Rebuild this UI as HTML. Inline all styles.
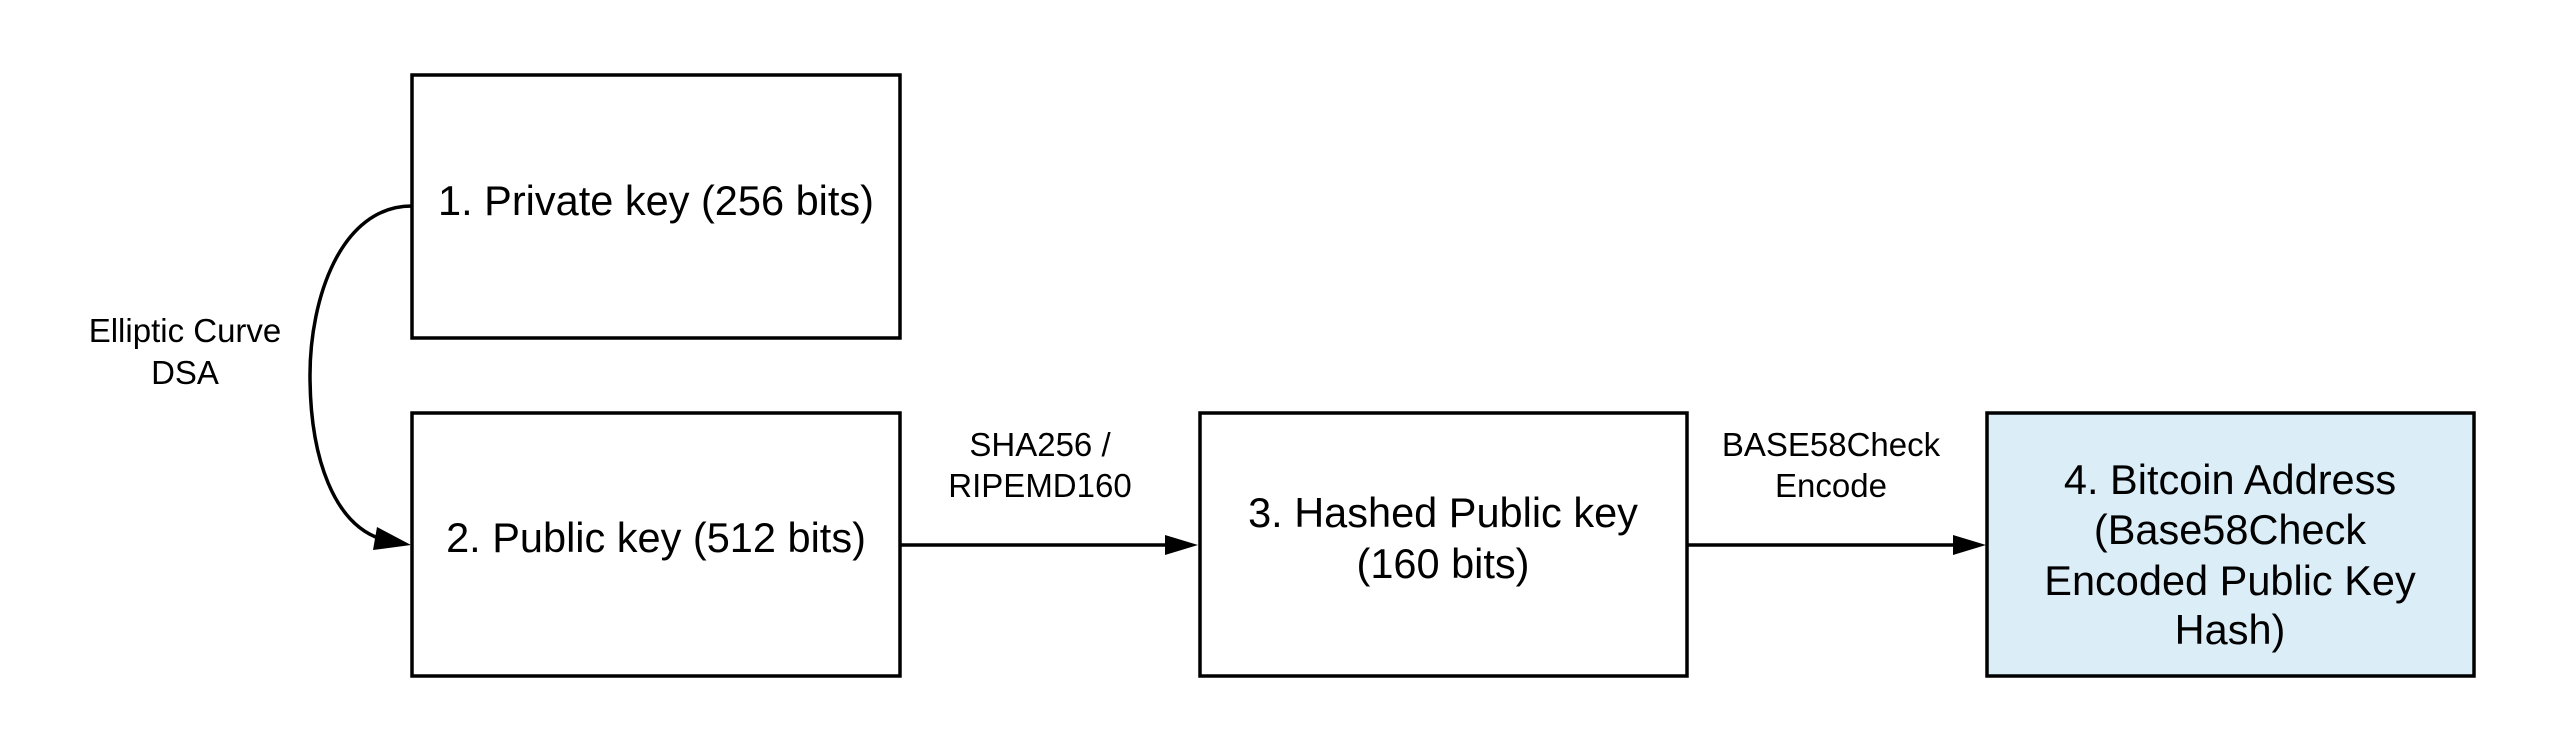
<!DOCTYPE html>
<html><head><meta charset="utf-8"><style>
html,body{margin:0;padding:0;background:#fff;}
svg{display:block;}
text{font-family:"Liberation Sans",sans-serif;fill:#000;}
</style></head><body>
<svg width="2550" height="750" viewBox="0 0 2550 750" xmlns="http://www.w3.org/2000/svg">
<rect x="412" y="75" width="488" height="263" fill="#fff" stroke="#000" stroke-width="3.5"/>
<rect x="412" y="413" width="488" height="263" fill="#fff" stroke="#000" stroke-width="3.5"/>
<rect x="1200" y="413" width="487" height="263" fill="#fff" stroke="#000" stroke-width="3.5"/>
<rect x="1987" y="413" width="487" height="263" fill="#dbeef8" stroke="#000" stroke-width="3.5"/>
<path d="M412 206 C 340 206, 310 300, 310 375 C 310 460, 335 524, 381 539" fill="none" stroke="#000" stroke-width="3.5"/>
<polygon points="411,545 377,527 373,550" fill="#000"/>
<line x1="900" y1="545" x2="1167" y2="545" stroke="#000" stroke-width="3.5"/>
<polygon points="1198,545 1165,535 1165,555" fill="#000"/>
<line x1="1687" y1="545" x2="1955" y2="545" stroke="#000" stroke-width="3.5"/>
<polygon points="1986,545 1953,535 1953,555" fill="#000"/>
<g font-size="41.5" text-anchor="middle">
<text x="656" y="215">1. Private key (256 bits)</text>
<text x="656" y="552">2. Public key (512 bits)</text>
<text x="1443" y="527">3. Hashed Public key</text>
<text x="1443" y="578">(160 bits)</text>
<text x="2230" y="494">4. Bitcoin Address</text>
<text x="2230" y="544">(Base58Check</text>
<text x="2230" y="595">Encoded Public Key</text>
<text x="2230" y="644">Hash)</text>
</g>
<g font-size="33" text-anchor="middle">
<text x="185" y="342">Elliptic Curve</text>
<text x="185" y="384">DSA</text>
<text x="1040" y="456">SHA256 /</text>
<text x="1040" y="497">RIPEMD160</text>
<text x="1831" y="456">BASE58Check</text>
<text x="1831" y="497">Encode</text>
</g>
</svg>
</body></html>
